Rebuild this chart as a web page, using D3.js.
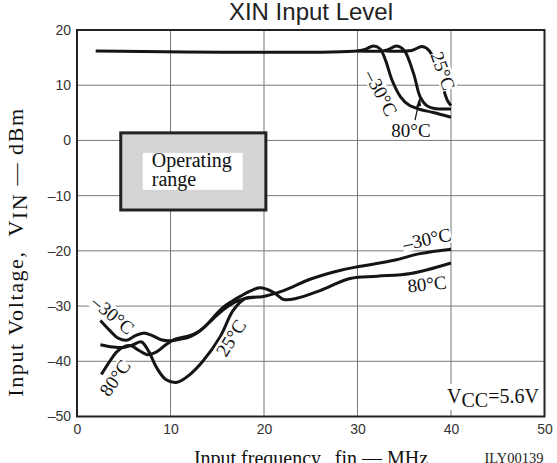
<!DOCTYPE html>
<html><head><meta charset="utf-8">
<script src="https://cdn.jsdelivr.net/npm/d3@7"></script>
<style>body{margin:0;background:#fff}svg{display:block}</style>
</head><body>
<svg id="c" width="557" height="463"></svg>
<script>
// ---- data ----
const xTicks = [0, 10, 20, 30, 40, 50];
const yTicks = [20, 10, 0, -10, -20, -30, -40, -50];
const fmt = v => (v < 0 ? "\u2013" + Math.abs(v) : String(v));

// upper curves (loss of lock region)
const topM30 = [[2,16.2],[30,16.2],[30.8,16.5],[31.7,17.1],[32.4,16.6],[33,14.5],[33.7,10.9],[34.6,7.9],[35.5,6.4],[36.7,5.6],[38,5.1],[40,4.2]];
const top80  = [[30,16.2],[33,16.3],[34.2,17.1],[35,16.3],[36,12.1],[36.7,7.9],[37.4,6.3],[38.2,5.8],[40,5.7]];
const top25  = [[33,16.2],[35.8,16.3],[36.9,17.0],[37.7,16.2],[38.9,10.9],[39.6,7.3],[40,6.3]];

// lower curves
const botM30 = [[2.5,-32.6],[3.5,-34.4],[4.4,-35.8],[5.3,-36.2],[6.2,-35.4],[7.1,-34.9],[8,-35.3],[9,-36.1],[10,-36.3],[11,-36],[12,-35.6],[13,-34.7],[14,-33.2],[15,-31.6],[16,-30.2],[17,-29.2],[18,-28.6],[19,-28.4],[19.8,-28.3],[22.1,-27.2],[25,-25.1],[28.2,-23.5],[30.3,-22.8],[33.9,-21.7],[36.7,-20.5],[40,-19.7]];
const bot80  = [[2.6,-42.4],[3.5,-40],[4.3,-38.2],[5.1,-37.3],[5.8,-37.2],[6.6,-38],[7.5,-38.8],[8.5,-38.3],[9.5,-37],[10.5,-36],[11.5,-35.6],[12.5,-35.1],[13.5,-34],[14.5,-32.2],[15.5,-30.4],[16.5,-29.2],[17.5,-28.2],[18.5,-27.3],[19.6,-26.7],[21,-27.5],[22.1,-28.8],[23.5,-28.6],[26,-27.2],[29.2,-25.0],[32.1,-24.6],[35.7,-24.1],[40,-22.2]];
const bot25  = [[2.5,-37.0],[3.8,-37.4],[5,-37.5],[6,-37],[6.9,-36.5],[7.7,-38.3],[8.5,-41.1],[9.5,-43.3],[10.7,-43.8],[12,-42.5],[13.5,-39.9],[15.3,-35.6],[16.7,-30.8],[18,-28.6],[19,-28.4]];

// ---- chart ----
const svg = d3.select("#c");
const x = d3.scaleLinear().domain([0, 50]).range([77, 544.5]);
const y = d3.scaleLinear().domain([-50, 20]).range([416.5, 30]);
const serif = "'Liberation Serif','Times New Roman',serif";
const sans = "'Liberation Sans',Arial,sans-serif";

// grid
const g = svg.append("g");
g.selectAll(".vx").data(xTicks.slice(1, -1)).join("line")
  .attr("x1", d => x(d)).attr("x2", d => x(d)).attr("y1", y(20)).attr("y2", y(-50))
  .attr("stroke", "#777").attr("stroke-width", 1);
g.selectAll(".hy").data(yTicks.slice(1, -1)).join("line")
  .attr("x1", x(0)).attr("x2", x(50)).attr("y1", d => y(d)).attr("y2", d => y(d))
  .attr("stroke", "#777").attr("stroke-width", 1);

// axes tick labels
const xAxis = d3.axisBottom(x).tickValues(xTicks).tickSize(0).tickPadding(8).tickFormat(fmt);
const yAxis = d3.axisLeft(y).tickValues(yTicks).tickSize(0).tickPadding(6).tickFormat(fmt);
const xa = svg.append("g").attr("transform", `translate(0,${y(-50)})`).call(xAxis);
const ya = svg.append("g").attr("transform", `translate(${x(0)},0)`).call(yAxis);
[xa, ya].forEach(a => {
  a.select(".domain").remove();
  a.selectAll("text").attr("font-family", sans).attr("font-size", 14).attr("fill", "#333");
});

// operating range box
const box = {x0: 4.68, x1: 20.2, y0: 1.37, y1: -12.6};
svg.append("rect").attr("x", x(box.x0)).attr("y", y(box.y0))
  .attr("width", x(box.x1) - x(box.x0)).attr("height", y(box.y1) - y(box.y0))
  .attr("fill", "#d4d4d4").attr("stroke", "#222").attr("stroke-width", 3);
svg.append("rect").attr("x", x(box.x0) + 22).attr("y", y(box.y0) + 20)
  .attr("width", 100).attr("height", 37).attr("fill", "#fff");
svg.append("text").attr("x", x(box.x0) + 31).attr("y", y(box.y0) + 34)
  .attr("font-family", serif).attr("font-size", 20).attr("fill", "#111").text("Operating");
svg.append("text").attr("x", x(box.x0) + 31).attr("y", y(box.y0) + 53)
  .attr("font-family", serif).attr("font-size", 20).attr("fill", "#111").text("range");

// curves
const line = d3.line().x(d => x(d[0])).y(d => y(d[1])).curve(d3.curveCatmullRom.alpha(0.5));
[topM30, top80, top25, botM30, bot80, bot25].forEach(s => {
  svg.append("path").attr("d", line(s)).attr("fill", "none")
    .attr("stroke", "#151515").attr("stroke-width", 3).attr("stroke-linejoin", "round");
});

// frame
svg.append("rect").attr("x", x(0)).attr("y", y(20)).attr("width", x(50) - x(0))
  .attr("height", y(-50) - y(20)).attr("fill", "none").attr("stroke", "#222").attr("stroke-width", 2);

// curve labels
function labBg(txt, cx, cy, rot, size) {
  const grp = svg.append("g").attr("transform", `translate(${cx},${cy}) rotate(${rot})`);
  const t = grp.append("text").attr("text-anchor", "middle").attr("dominant-baseline", "central")
    .attr("font-family", serif).attr("font-size", size || 19).attr("fill", "#111").text(txt);
  const b = t.node().getBBox();
  grp.insert("rect", "text").attr("x", b.x).attr("y", b.y + 2).attr("width", b.width).attr("height", b.height - 4).attr("fill", "#fff");
}
labBg("\u201330\u00b0C", 381, 93, 62);
labBg("25\u00b0C", 443, 71, 70);
labBg("80\u00b0C", 411, 130, 0);
// arrow for 80°C
svg.append("line").attr("x1", 415).attr("y1", 120).attr("x2", 419.5).attr("y2", 100).attr("stroke", "#111").attr("stroke-width", 1.2);
svg.append("path").attr("d", "M420,97 L416,107 L421,106 Z").attr("fill", "#111");

labBg("\u201330\u00b0C", 427, 239, -12);
labBg("80\u00b0C", 427, 284, -6);
labBg("\u201330\u00b0C", 113, 315, 40);
labBg("80\u00b0C", 115, 378, -55);
labBg("25\u00b0C", 231, 338, -58);

// Vcc label
const vg = svg.append("g");
vg.append("rect").attr("x", 444).attr("y", 384).attr("width", 99).attr("height", 26).attr("fill", "#fff");
const vt = vg.append("text").attr("x", 447).attr("y", 403).attr("font-family", serif).attr("font-size", 20).attr("fill", "#111");
vt.append("tspan").text("V");
vt.append("tspan").attr("dy", 4).text("CC");
vt.append("tspan").attr("dy", -4).text("=5.6V");

// title
svg.append("text").attr("x", 311).attr("y", 20).attr("text-anchor", "middle")
  .attr("font-family", sans).attr("font-size", 24).attr("fill", "#222").text("XIN Input Level");

// axis titles
const xt = svg.append("text").attr("x", 311).attr("y", 465).attr("text-anchor", "middle")
  .attr("font-family", serif).attr("font-size", 20).attr("fill", "#111");
xt.text("Input frequency,\u00a0 fin \u2014 MHz");
svg.append("text").attr("x", 514).attr("y", 463).attr("text-anchor", "middle")
  .attr("font-family", serif).attr("font-size", 14.5).attr("fill", "#222").text("ILY00139");

const yt = svg.append("text").attr("transform", "translate(23,252) rotate(-90)").attr("text-anchor", "middle")
  .attr("font-family", serif).attr("font-size", 22).attr("letter-spacing", 1.6).attr("fill", "#111");
yt.append("tspan").text("Input Voltage,\u00a0 V");
yt.append("tspan").attr("dy", 4).text("IN");
yt.append("tspan").attr("dy", -4).text(" \u2014 dBm");
</script>
</body></html>
